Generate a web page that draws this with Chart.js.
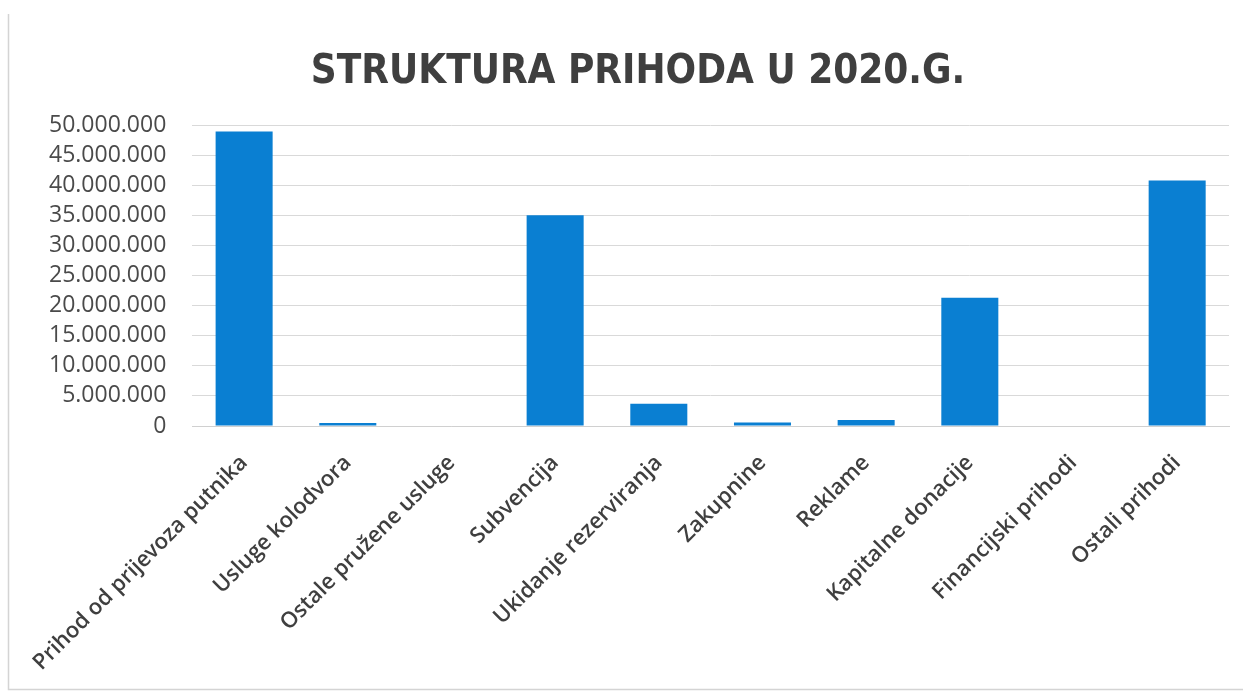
<!DOCTYPE html>
<html>
<head>
<meta charset="utf-8">
<script src="https://cdn.jsdelivr.net/npm/chart.js@4/dist/chart.umd.min.js"></script>
<style>
  html, body { margin: 0; padding: 0; background: #fff; }
  #wrap { width: 1251px; height: 696px; }
</style>
</head>
<body>
<div id="wrap"><canvas id="chart"></canvas></div>
<script>
// values
const categories = [
  'Prihod od prijevoza putnika',
  'Usluge kolodvora',
  'Ostale pružene usluge',
  'Subvencija',
  'Ukidanje rezerviranja',
  'Zakupnine',
  'Reklame',
  'Kapitalne donacije',
  'Financijski prihodi',
  'Ostali prihodi'
];
const prihodi = [48900000, 500000, 0, 35000000, 3700000, 600000, 1000000, 21300000, 0, 40800000];
const yTicks = [0, 5000000, 10000000, 15000000, 20000000, 25000000, 30000000, 35000000, 40000000, 45000000, 50000000];

const fmt = v => String(v).replace(/\B(?=(\d{3})+(?!\d))/g, '.');

// faint chart-area frame (left and bottom edges show in the scan)
const frame = {
  id: 'frame',
  afterLayout(chart) {
    // title sits a little right of centre in the original
    chart.titleBlock.left += 12;
    chart.titleBlock.right += 12;
  },
  beforeDraw(chart) {
    const c = chart.ctx;
    c.save();
    c.strokeStyle = '#d4d4d4';
    c.lineWidth = 1.5;
    c.beginPath();
    c.moveTo(8.5, 14);
    c.lineTo(8.5, 689.5);
    c.lineTo(1243, 689.5);
    c.stroke();
    c.restore();
  }
};

const ctx = document.getElementById('chart').getContext('2d');
new Chart(ctx, {
  type: 'bar',
  data: {
    labels: categories,
    datasets: [{
      label: 'Prihodi',
      data: prihodi,
      backgroundColor: '#0A7FD2',
      categoryPercentage: 1,
      barPercentage: 0.55
    }]
  },
  options: {
    responsive: true,
    maintainAspectRatio: false,
    animation: false,
    layout: { padding: { left: 23, right: 22, top: 10, bottom: 8 } },
    plugins: {
      legend: { display: false },
      tooltip: { enabled: false },
      title: {
        display: true,
        text: 'STRUKTURA PRIHODA U 2020.G.',
        color: '#3f3f3f',
        font: { family: '"Liberation Sans Narrow", "DejaVu Sans Condensed", Lato', size: 40, weight: 'bold' },
        padding: { top: 39, bottom: 28 }
      }
    },
    scales: {
      y: {
        min: 0,
        max: 50000000,
        afterBuildTicks: axis => { axis.ticks = yTicks.map(v => ({ value: v })); },
        border: { display: false },
        grid: { color: '#d9d9d9', drawTicks: false },
        ticks: {
          color: '#4a4a4a',
          padding: 26,
          autoSkip: false,
          font: { family: '"Open Sans"', size: 23 },
          callback: v => fmt(v)
        }
      },
      x: {
        border: { color: '#d0d0d0' },
        grid: { display: false },
        afterFit: scale => {
          scale.paddingLeft = 0;
          scale.paddingRight = 0;
          scale.height = 262;
        },
        ticks: {
          color: '#3f3f3f',
          minRotation: 45,
          maxRotation: 45,
          padding: 16,
          autoSkip: false,
          font: { family: '"Open Sans"', size: 22, weight: '600' }
        }
      }
    }
  },
  plugins: [frame]
});
</script>
</body>
</html>
